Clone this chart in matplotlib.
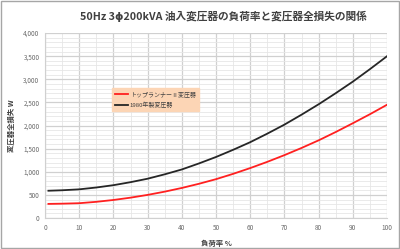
import matplotlib
matplotlib.use("Agg")
import matplotlib.pyplot as plt
from matplotlib.patches import Rectangle
from matplotlib.ticker import MultipleLocator, FuncFormatter

plt.rcParams['font.family'] = ['Noto Sans CJK JP', 'DejaVu Sans']

load = [1, 5, 10, 15, 20, 25, 30, 35, 40, 45, 50, 55, 60, 65, 70, 75, 80, 85, 90, 95, 100]
top_runner = [305, 310, 320, 350, 390, 440, 500, 570, 650, 740, 840, 955, 1080, 1215,
              1360, 1515, 1680, 1860, 2050, 2245, 2450]
old_1980 = [590, 600, 620, 660, 710, 775, 850, 945, 1050, 1180, 1320, 1475, 1640, 1825,
            2020, 2235, 2460, 2700, 2950, 3220, 3500]
series_names = ['トップランナーⅡ変圧器', '1980年製変圧器']
title = '50Hz 3ϕ200kVA 油入変圧器の負荷率と変圧器全損失の関係'

fig = plt.figure(figsize=(4.0, 2.49), dpi=100)
fig.patches.append(Rectangle((0.003, 0.005), 0.994, 0.99, transform=fig.transFigure,
                             fill=False, edgecolor='#a6a6a6', linewidth=1.0))
ax = fig.add_axes([0.1125, 0.1245, 0.855, 0.7425])

ax.plot(load, top_runner, color='#ff2020', linewidth=1.3, label=series_names[0])
ax.plot(load, old_1980, color='#262626', linewidth=1.3, label=series_names[1])

ax.set_xlim(0, 100)
ax.set_ylim(0, 4000)
ax.xaxis.set_major_locator(MultipleLocator(10))
ax.xaxis.set_minor_locator(MultipleLocator(5))
ax.yaxis.set_major_locator(MultipleLocator(500))
ax.yaxis.set_minor_locator(MultipleLocator(100))
ax.yaxis.set_major_formatter(FuncFormatter(lambda v, p: f'{int(v):,}'))
ax.grid(which='major', color='#d0d0d0', linewidth=0.9)
ax.grid(which='minor', color='#e6e6e6', linewidth=0.6)
ax.set_axisbelow(True)
for s in ax.spines.values():
    s.set_visible(False)
ax.spines['left'].set_visible(True)
ax.spines['left'].set_color('#d0d0d0')
ax.spines['bottom'].set_visible(True)
ax.spines['bottom'].set_color('#d0d0d0')
ax.tick_params(which='both', length=0, labelsize=4.6, labelcolor='#6a6a6a', pad=4)

ax.set_xlabel('負荷率 %', fontsize=5.3, color='#404040', fontweight='bold', labelpad=6)
ax.set_ylabel('変圧器全損失 W', fontsize=5.3, color='#404040', fontweight='bold', labelpad=6)
fig.text(0.558, 0.935, title, ha='center', va='center', fontsize=7.7,
         fontweight='bold', color='#404040')

leg = ax.legend(loc='upper left', bbox_to_anchor=(0.197, 0.705), fontsize=4.3,
                frameon=True, fancybox=False, facecolor='#fcd5b5', edgecolor='#fcd5b5',
                framealpha=1.0, handlelength=2.2, borderpad=0.5, labelspacing=0.8,
                handletextpad=0.2, borderaxespad=0)
for t in leg.get_texts():
    t.set_color('#404040')

fig.savefig('out.png', dpi=100)
